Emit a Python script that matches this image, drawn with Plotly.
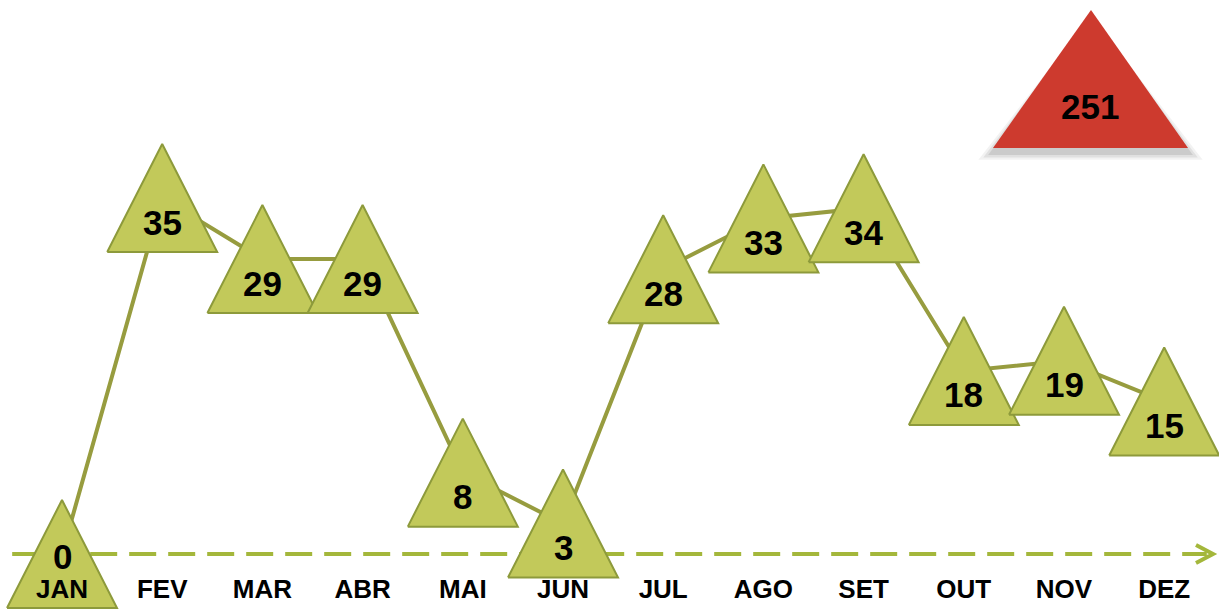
import plotly.graph_objects as go

# ---- data ----
months = ["JAN", "FEV", "MAR", "ABR", "MAI", "JUN", "JUL", "AGO", "SET", "OUT", "NOV", "DEZ"]
values = [0, 35, 29, 29, 8, 3, 28, 33, 34, 18, 19, 15]
total = sum(values)

# ---- geometry / style ----
W, H = 1219, 610
X0_PX, DX_PX = 62, 100.2      # pixel of first category, pixel per category
Y0_PX, DY_PX = 554, 10.17     # pixel of value 0, pixel per unit
xr = [-X0_PX / DX_PX, (W - X0_PX) / DX_PX]
yr = [-(H - Y0_PX) / DY_PX, Y0_PX / DY_PX]
HALF_W = 55 / DX_PX
HALF_H = 54 / DY_PX

LINE_C = "#979c3f"
FILL_C = "#c2c95a"
EDGE_C = "#8d9a3b"
AXIS_C = "#a4b73b"
FONT = "Liberation Sans, Arial, sans-serif"

fig = go.Figure()

# connecting line
fig.add_trace(go.Scatter(
    x=list(range(len(values))), y=values, mode="lines",
    line=dict(color=LINE_C, width=4), hoverinfo="skip", showlegend=False))

# triangles around each point
for i, v in enumerate(values):
    xs = [i - HALF_W, i + HALF_W, i, i - HALF_W]
    ys = [v - HALF_H, v - HALF_H, v + HALF_H, v - HALF_H]
    fig.add_trace(go.Scatter(
        x=xs, y=ys, mode="lines", fill="toself", fillcolor=FILL_C,
        line=dict(color=EDGE_C, width=2), hoverinfo="skip", showlegend=False))

# value labels
for i, v in enumerate(values):
    fig.add_annotation(
        x=i, y=v, text=f"<b>{v}</b>", showarrow=False,
        xanchor="center", yanchor="middle",
        yshift=-2 if i == 0 else -24,
        font=dict(family=FONT, size=35, color="black"))

# dashed axis arrow
fig.add_shape(type="line", xref="paper", yref="y", x0=0.01, x1=0.99, y0=0, y1=0,
              line=dict(color=AXIS_C, width=4, dash="27px,12px"), layer="below")
fig.add_shape(type="path", xref="paper", yref="y", xsizemode="pixel", ysizemode="pixel",
              xanchor=1213 / W, yanchor=0, path="M -17,9 L 0,0 L -17,-9",
              line=dict(color=AXIS_C, width=4))

# total badge (red triangle) with soft shadow
for k, a in enumerate([0.05, 0.07, 0.09]):
    d = 0.004 * (3 - k)
    fig.add_shape(type="path", xref="paper", yref="paper",
                  path=f"M {0.8146 - d},{0.750 - d} L {0.9746 + d},{0.750 - d} L 0.895,0.975 Z",
                  fillcolor=f"rgba(0,0,0,{a})", line=dict(width=0), layer="above")
fig.add_shape(type="path", xref="paper", yref="paper",
              path="M 0.8146,0.7574 L 0.9746,0.7574 L 0.895,0.9836 Z",
              fillcolor="#cd3a2e", line=dict(width=0), layer="above")
fig.add_annotation(xref="paper", yref="paper", x=0.8945, y=1 - 106 / H,
                   xanchor="center", yanchor="middle",
                   text=f"<b>{total}</b>", showarrow=False,
                   font=dict(family=FONT, size=35, color="black"))

fig.update_layout(
    width=W, height=H, margin=dict(l=0, r=0, t=0, b=0),
    paper_bgcolor="white", plot_bgcolor="white",
    xaxis=dict(range=xr, tickvals=list(range(len(months))),
               ticktext=[f"<b>{m}</b>" for m in months],
               ticklabelposition="inside", ticks="", ticklabelstandoff=4,
               tickfont=dict(family=FONT, size=26, color="black"),
               showgrid=False, zeroline=False, showline=False, fixedrange=True),
    yaxis=dict(range=yr, visible=False, showgrid=False, zeroline=False, fixedrange=True),
    showlegend=False,
)

fig.write_html("out.html", config={"displayModeBar": False},
               post_script="document.body.style.margin='0';")
